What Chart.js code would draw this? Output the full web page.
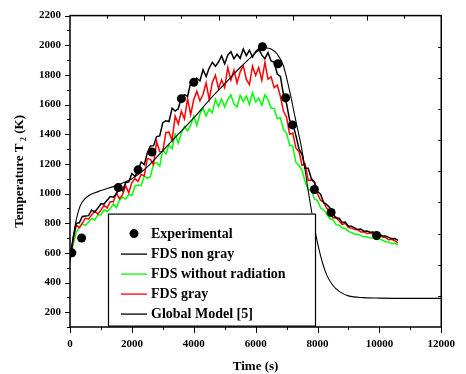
<!DOCTYPE html>
<html>
<head>
<meta charset="utf-8">
<script src="https://cdn.jsdelivr.net/npm/chart.js@4.4.1/dist/chart.umd.min.js"></script>
<style>
  html, body { margin: 0; padding: 0; background: #fff; }
</style>
</head>
<body>
<canvas id="chart" width="466" height="374"></canvas>
<script>
// Temps de mesure (s) pour les trois simulations FDS
const times = [
    0, 100, 200, 300, 400, 500, 600, 700, 800, 900,
    1000, 1100, 1200, 1300, 1400, 1500, 1600, 1700, 1800, 1900,
    2000, 2100, 2200, 2300, 2400, 2500, 2600, 2700, 2800, 2900,
    3000, 3100, 3200, 3300, 3400, 3500, 3600, 3700, 3800, 3900,
    4000, 4100, 4200, 4300, 4400, 4500, 4600, 4700, 4800, 4900,
    5000, 5100, 5200, 5300, 5400, 5500, 5600, 5700, 5800, 5900,
    6000, 6100, 6200, 6300, 6400, 6500, 6600, 6700, 6800, 6900,
    7000, 7100, 7200, 7300, 7400, 7500, 7600, 7700, 7800, 7900,
    8000, 8100, 8200, 8300, 8400, 8500, 8600, 8700, 8800, 8900,
    9000, 9100, 9200, 9300, 9400, 9500, 9600, 9700, 9800, 9900,
    10000, 10100, 10200, 10300, 10400, 10500, 10600
];

const fdsNonGray = [
    560, 700, 799, 803, 845, 848, 851, 889, 875, 902,
    931, 929, 955, 980, 975, 998, 1040, 1018, 1073, 1078,
    1135, 1115, 1155, 1213, 1195, 1274, 1321, 1323, 1384, 1389,
    1478, 1491, 1486, 1575, 1556, 1572, 1651, 1667, 1655, 1747,
    1730, 1778, 1759, 1835, 1789, 1847, 1885, 1858, 1887, 1928,
    1875, 1934, 1957, 1909, 1939, 1912, 1975, 1930, 1966, 1921,
    1956, 1977, 1933, 1910, 1950, 1894, 1885, 1806, 1790, 1668,
    1606, 1493, 1474, 1392, 1302, 1263, 1170, 1171, 1101, 1078,
    1013, 995, 938, 925, 904, 862, 835, 833, 804, 807,
    779, 779, 769, 757, 760, 746, 747, 739, 740, 726,
    727, 713, 714, 704, 695, 696, 684
];

const fdsNoRadiation = [
    560, 655, 739, 770, 795, 785, 807, 832, 822, 856,
    856, 890, 879, 897, 929, 905, 955, 975, 963, 993,
    988, 1050, 1058, 1053, 1120, 1102, 1114, 1202, 1209, 1185,
    1296, 1267, 1328, 1303, 1400, 1340, 1409, 1452, 1423, 1461,
    1521, 1460, 1538, 1576, 1523, 1570, 1544, 1635, 1587, 1637,
    1584, 1634, 1666, 1603, 1585, 1662, 1621, 1658, 1599, 1680,
    1617, 1644, 1595, 1666, 1633, 1577, 1573, 1505, 1511, 1431,
    1408, 1325, 1320, 1211, 1189, 1157, 1079, 1024, 1025, 963,
    953, 902, 891, 860, 830, 824, 790, 786, 767, 764,
    743, 738, 725, 726, 716, 708, 709, 701, 700, 690,
    695, 685, 675, 674, 662, 664, 653
];

const fdsGray = [
    560, 680, 788, 770, 801, 834, 827, 856, 882, 861,
    888, 921, 902, 945, 944, 1003, 964, 993, 1052, 1005,
    1074, 1101, 1083, 1129, 1119, 1236, 1231, 1196, 1350, 1282,
    1284, 1412, 1414, 1360, 1523, 1469, 1555, 1503, 1640, 1532,
    1634, 1689, 1625, 1668, 1746, 1635, 1748, 1798, 1708, 1767,
    1714, 1850, 1764, 1832, 1746, 1821, 1863, 1770, 1735, 1859,
    1796, 1850, 1764, 1885, 1772, 1788, 1714, 1732, 1656, 1556,
    1514, 1400, 1408, 1308, 1284, 1190, 1200, 1088, 1092, 1076,
    997, 955, 943, 899, 887, 835, 839, 815, 790, 799,
    771, 767, 757, 755, 741, 742, 730, 734, 726, 718,
    718, 706, 703, 688, 692, 681, 668
];

// Modèle global [5]
const globalTimes = [0, 100, 200, 300, 400, 600, 800, 1000, 1500, 2000, 2500, 3000, 3500, 4000, 4500,
    5000, 5500, 5800, 6000, 6200, 6350, 6500, 6700, 6900, 7100, 7300, 7500, 7700, 7900, 8100,
    8300, 8500, 8700, 9000, 9500, 10000, 11000, 12000];
const globalTemps = [540, 700, 820, 900, 945, 985, 1005, 1020, 1055, 1100, 1180, 1290, 1400, 1510, 1630,
    1740, 1850, 1910, 1950, 1975, 1982, 1975, 1940, 1860, 1690, 1490, 1290, 1020, 770, 580,
    450, 380, 340, 310, 298, 295, 293, 293];

// Points expérimentaux
const expTimes = [60, 375, 1560, 2200, 2650, 3600, 4000, 6220, 6720, 6970, 7190, 7900, 8440, 9910];
const expTemps = [600, 700, 1040, 1160, 1280, 1640, 1750, 1990, 1875, 1646, 1463, 1027, 872, 717];

const xTicksMax = 12000;
const yTicksMin = 100;
const yTicksMax = 2200;

const serif = "'Liberation Serif', 'Times New Roman', serif";

function toPoints(xs, ys) {
    return xs.map((x, i) => ({ x: x, y: ys[i] }));
}

// Cadre avec graduations (haut, droite, bas, gauche)
const framePlugin = {
    id: 'frame',
    afterDraw(chart) {
        const { ctx, chartArea: a, scales: { x, y } } = chart;
        ctx.save();
        ctx.strokeStyle = '#000';
        ctx.lineWidth = 1.5;
        ctx.strokeRect(a.left, a.top, a.right - a.left, a.bottom - a.top);
        ctx.lineWidth = 1;
        ctx.beginPath();
        x.ticks.forEach(t => {
            const px = Math.round(x.getPixelForValue(t.value)) + 0.5;
            const len = t.value % 2000 === 0 ? 6 : 3;
            ctx.moveTo(px, a.bottom);
            ctx.lineTo(px, a.bottom + len);
        });
        y.ticks.forEach(t => {
            const py = Math.round(y.getPixelForValue(t.value)) + 0.5;
            const len = t.value % 200 === 0 ? 5 : 3;
            ctx.moveTo(a.left, py);
            ctx.lineTo(a.left - len, py);
        });
        for (let i = 1; i < 10; i++) {
            const px = Math.round(a.left + (a.right - a.left) * i / 10) + 0.5;
            const len = i % 2 === 0 ? 5 : 3;
            ctx.moveTo(px, a.top);
            ctx.lineTo(px, a.top + len);
            const py = Math.round(a.top + (a.bottom - a.top) * i / 10) + 0.5;
            ctx.moveTo(a.right, py);
            ctx.lineTo(a.right - 3, py);
        }
        ctx.stroke();
        ctx.restore();
    }
};

// Légende encadrée à l'intérieur du graphique
const legendBoxPlugin = {
    id: 'legendBox',
    afterDraw(chart) {
        const { ctx, chartArea: a } = chart;
        const left = a.left + 38;
        const top = a.top + 198;
        const w = 207;
        const h = 112;
        ctx.save();
        ctx.fillStyle = '#fff';
        ctx.fillRect(left, top, w, h);
        ctx.strokeStyle = '#000';
        ctx.lineWidth = 1.2;
        ctx.strokeRect(left + 0.5, top + 0.5, w, h);
        ctx.font = "bold 14px " + serif;
        ctx.textBaseline = 'middle';
        ctx.textAlign = 'left';
        chart.data.datasets.forEach((ds, i) => {
            const cy = top + 20 + i * 20;
            if (ds.showLine === false) {
                ctx.fillStyle = ds.backgroundColor;
                ctx.beginPath();
                ctx.arc(left + 26, cy, 4.5, 0, Math.PI * 2);
                ctx.fill();
            } else {
                ctx.strokeStyle = ds.borderColor;
                ctx.lineWidth = 1.3;
                ctx.beginPath();
                ctx.moveTo(left + 13, cy + 0.5);
                ctx.lineTo(left + 39, cy + 0.5);
                ctx.stroke();
            }
            ctx.fillStyle = '#000';
            ctx.fillText(ds.label, left + 43, cy + 1);
        });
        ctx.restore();
    }
};

const ctx = document.getElementById('chart').getContext('2d');
new Chart(ctx, {
    type: 'scatter',
    data: {
        datasets: [
            {
                label: 'Experimental',
                data: toPoints(expTimes, expTemps),
                showLine: false,
                pointRadius: 4.5,
                pointBackgroundColor: '#000',
                pointBorderWidth: 0,
                backgroundColor: '#000',
                order: 0
            },
            {
                label: 'FDS non gray',
                data: toPoints(times, fdsNonGray),
                showLine: true,
                borderColor: '#000',
                borderWidth: 1.5,
                pointRadius: 0,
                tension: 0,
                order: 2
            },
            {
                label: 'FDS without radiation',
                data: toPoints(times, fdsNoRadiation),
                showLine: true,
                borderColor: '#00ff00',
                borderWidth: 1.5,
                pointRadius: 0,
                tension: 0,
                order: 4
            },
            {
                label: 'FDS gray',
                data: toPoints(times, fdsGray),
                showLine: true,
                borderColor: '#ff0000',
                borderWidth: 1.5,
                pointRadius: 0,
                tension: 0,
                order: 3
            },
            {
                label: 'Global Model [5]',
                data: toPoints(globalTimes, globalTemps),
                showLine: true,
                borderColor: '#000',
                borderWidth: 1.1,
                pointRadius: 0,
                cubicInterpolationMode: 'monotone',
                order: 1
            }
        ]
    },
    options: {
        responsive: false,
        animation: false,
        layout: { padding: { top: 15, right: 12, left: 0, bottom: 0 } },
        plugins: {
            legend: { display: false },
            tooltip: { enabled: false }
        },
        scales: {
            x: {
                type: 'linear',
                min: 0,
                max: xTicksMax,
                grid: { display: false, drawTicks: false },
                border: { display: false },
                ticks: {
                    stepSize: 1000,
                    autoSkip: false,
                    maxRotation: 0,
                    padding: 11,
                    color: '#000',
                    font: { family: serif, size: 11, weight: 'bold' },
                    callback: v => (v % 2000 === 0 ? String(v) : '')
                },
                title: {
                    display: true,
                    text: 'Time (s)',
                    color: '#000',
                    font: { family: serif, size: 13, weight: 'bold' },
                    padding: { top: 0, bottom: 0 }
                },
                afterFit: s => { s.height = 47; }
            },
            y: {
                type: 'linear',
                min: yTicksMin,
                max: yTicksMax,
                grid: { display: false, drawTicks: false },
                border: { display: false },
                ticks: {
                    stepSize: 100,
                    autoSkip: false,
                    padding: 9,
                    color: '#000',
                    font: { family: serif, size: 11, weight: 'bold' },
                    callback: v => (v % 200 === 0 ? String(v) : '')
                },
                title: {
                    display: true,
                    text: 'Temperature T\u2009\u2082 (K)',
                    color: '#000',
                    font: { family: serif, size: 13, weight: 'bold' },
                    padding: { top: 12, bottom: 0 }
                },
                afterFit: s => { s.width = 70; }
            }
        }
    },
    plugins: [framePlugin, legendBoxPlugin]
});
</script>
</body>
</html>
